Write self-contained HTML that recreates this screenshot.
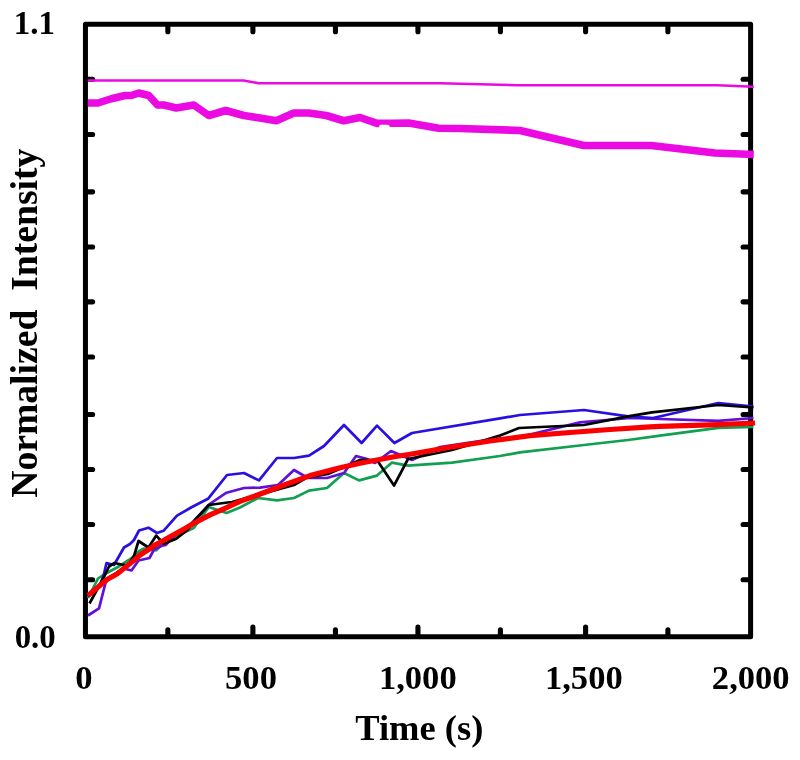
<!DOCTYPE html>
<html><head><meta charset="utf-8"><title>chart</title>
<style>
html,body{margin:0;padding:0;background:#fff;}
body{width:800px;height:760px;overflow:hidden;}
svg{display:block;}
text{font-family:"Liberation Serif",serif;font-weight:bold;fill:#000;}
.tl{font-size:34.6px;}
</style></head><body>
<svg width="800" height="760" viewBox="0 0 800 760" style="will-change:transform">
<rect x="0" y="0" width="800" height="760" fill="#fff"/>
<g fill="none" stroke="#000" stroke-width="5" stroke-linejoin="round">
<rect x="85.45" y="24.3" width="665.15" height="612.45"/>
</g>
<g fill="none" stroke="#000" stroke-width="5.1" stroke-linecap="round">
<line x1="86.45" y1="79.2" x2="92.6" y2="79.2"/>
<line x1="749.6" y1="79.2" x2="743.1" y2="79.2"/>
<line x1="86.45" y1="134.45" x2="92.6" y2="134.45"/>
<line x1="749.6" y1="134.45" x2="743.1" y2="134.45"/>
<line x1="86.45" y1="191.85" x2="92.6" y2="191.85"/>
<line x1="749.6" y1="191.85" x2="743.1" y2="191.85"/>
<line x1="86.45" y1="247" x2="92.6" y2="247"/>
<line x1="749.6" y1="247" x2="743.1" y2="247"/>
<line x1="86.45" y1="301.85" x2="92.6" y2="301.85"/>
<line x1="749.6" y1="301.85" x2="743.1" y2="301.85"/>
<line x1="86.45" y1="357" x2="92.6" y2="357"/>
<line x1="749.6" y1="357" x2="743.1" y2="357"/>
<line x1="86.45" y1="414.5" x2="92.6" y2="414.5"/>
<line x1="749.6" y1="414.5" x2="743.1" y2="414.5"/>
<line x1="86.45" y1="469.5" x2="92.6" y2="469.5"/>
<line x1="749.6" y1="469.5" x2="743.1" y2="469.5"/>
<line x1="86.45" y1="524.45" x2="92.6" y2="524.45"/>
<line x1="749.6" y1="524.45" x2="743.1" y2="524.45"/>
<line x1="86.45" y1="579.7" x2="92.6" y2="579.7"/>
<line x1="749.6" y1="579.7" x2="743.1" y2="579.7"/>
<line x1="167.85" y1="635.75" x2="167.85" y2="629.8"/>
<line x1="167.85" y1="25.3" x2="167.85" y2="31.8"/>
<line x1="335.45" y1="635.75" x2="335.45" y2="629.8"/>
<line x1="335.45" y1="25.3" x2="335.45" y2="31.8"/>
<line x1="500.4" y1="635.75" x2="500.4" y2="629.8"/>
<line x1="500.4" y1="25.3" x2="500.4" y2="31.8"/>
<line x1="667.9" y1="635.75" x2="667.9" y2="629.8"/>
<line x1="667.9" y1="25.3" x2="667.9" y2="31.8"/>
<line x1="252.9" y1="635.75" x2="252.9" y2="627.1"/>
<line x1="252.9" y1="25.3" x2="252.9" y2="31.8"/>
<line x1="417.95" y1="635.75" x2="417.95" y2="627.1"/>
<line x1="417.95" y1="25.3" x2="417.95" y2="31.8"/>
<line x1="585.6" y1="635.75" x2="585.6" y2="627.1"/>
<line x1="585.6" y1="25.3" x2="585.6" y2="31.8"/>
</g>
<g fill="none" stroke-linejoin="round" stroke-linecap="butt">
<polyline stroke="#EC0AE2" stroke-width="2.6" points="87.8,80.5 243.5,80.5 258.75,83.25 440,83.25 517.5,85.25 717.5,85.25 753.75,86.75"/>
<polyline stroke="#EC0AE2" stroke-width="7.6" points="87.8,103 98,103 111.25,98.75 125,95.5 131.25,95.5 138.75,93 148.75,95.5 157.5,105 163.75,105 176.25,108 193.75,105 208.75,115.5 225.75,110.5 243.75,115.5 260,118 276.25,120.75 293.75,113 308.75,113 326.25,115.5 343.75,120.75 360,117.5 377,123.4 392,123.2 408.75,123 438.75,128.25 460,128.5 520,130.5 583.75,145.5 651.25,145.5 715,153 753.75,154.5"/>
<path d="M378.6 128.5 L379.6 125.4 Q379.8 124.8 380.6 124.8 L388 124.8 Q388.8 124.8 389.2 125.6 L390.4 128.5 Z" fill="#fff" stroke="none"/>
<polyline stroke="#10A050" stroke-width="2.7" points="88,598 98,578.5 104,574.5 117,567.5 132,558 138.5,551.5 144,548.5 156.25,550.4 160,546.25 176,536 193.75,528 208.75,507 226.5,513 240,507.5 258,498 277,500.4 294,498 309,490.6 327,488 344,473 359,480.4 377,475.6 392,462.6 408,465.6 452,462.6 500,456 520,452.4 584,445 628,440 660,435.6 718.3,427.9 753.4,427"/>
<polyline stroke="#6010D8" stroke-width="2.7" points="88,615.5 99,608.3 105.5,583 110,577 124,568.5 131.5,570.5 138.5,560.5 149.5,558 154,549.5 162.5,545.6 165.6,545 176,534 190,525 210,503.75 226.5,492.7 244,488 260,487.6 278,485 294,470 308,478 327,478 344,473 356,456 367,459 375,463 391,451 412,460 440,447 480,441 520,437 580,422.4 630,418 660,419 718.3,420.9 753.4,418"/>
<polyline stroke="#2A10E0" stroke-width="2.7" points="88,596.5 100,585 103.6,575.5 106.5,563 114,565 124,547.5 130,544 134,540 139,530.5 148.5,527.7 157,533 163.5,530.8 177,515.6 192,507 208,498.8 227,475 244,473 259,480.4 277,458 294,458 309,455.6 324,446 344,425 361.6,443 377,425.6 394.4,443 412,433 500,418.4 520,415 584,410 628,416.4 653,418 718.3,403 753.4,406.7"/>
<polyline stroke="#000" stroke-width="2.7" points="89.5,603.5 104,577 109,566.5 114.5,563 121.5,564.5 128,565.5 134,556 138.5,541 148.5,547.5 156.25,535.6 163.75,543.75 176.25,538.75 187.5,530 195,520 208.75,505 227.5,502.5 232,502 276,490 294,485 306,478 328,474 360,460 377,460 394,485.6 408,459 452,450 500,435.6 519,428 584,425 628,416.4 652,412.4 718.3,405 753.4,407.5"/>
<polyline stroke="#FA0000" stroke-width="5.2" points="88,595.5 107,579.5 117,574 134,560.3 140,555 149,549.3 155,545 164,540.2 170,536.7 185,528.4 195,522.6 210,514.9 225,508.3 240,501.3 255,496 280,486.5 310,475.6 340,467.8 360,463.3 394,456.8 410,454.3 450,447.2 490,441 530,435.7 570,432.5 610,429.5 650,426.8 660,426.3 718,424.6 755,423"/>
</g>
<text class="tl" id="t11" transform="translate(34.3 34.1) scale(0.95 1)" text-anchor="middle">1.1</text>
<text class="tl" id="t00" transform="translate(35.2 648.3) scale(0.95 1)" text-anchor="middle">0.0</text>
<text class="tl" id="x0" x="84" y="688.5" text-anchor="middle">0</text>
<text class="tl" id="x500" x="251" y="688.5" text-anchor="middle">500</text>
<text class="tl" id="x1000" x="417.8" y="688.5" text-anchor="middle">1,000</text>
<text class="tl" id="x1500" x="583.85" y="688.5" text-anchor="middle">1,500</text>
<text class="tl" id="x2000" x="750.75" y="688.5" text-anchor="middle">2,000</text>
<text id="xl" x="419.3" y="740" text-anchor="middle" font-size="36.5">Time (s)</text>
<text id="yl" transform="translate(36.6 323.2) rotate(-90)" text-anchor="middle" font-size="37.65" style="white-space:pre">Normalized  Intensity</text>
</svg>
</body></html>
